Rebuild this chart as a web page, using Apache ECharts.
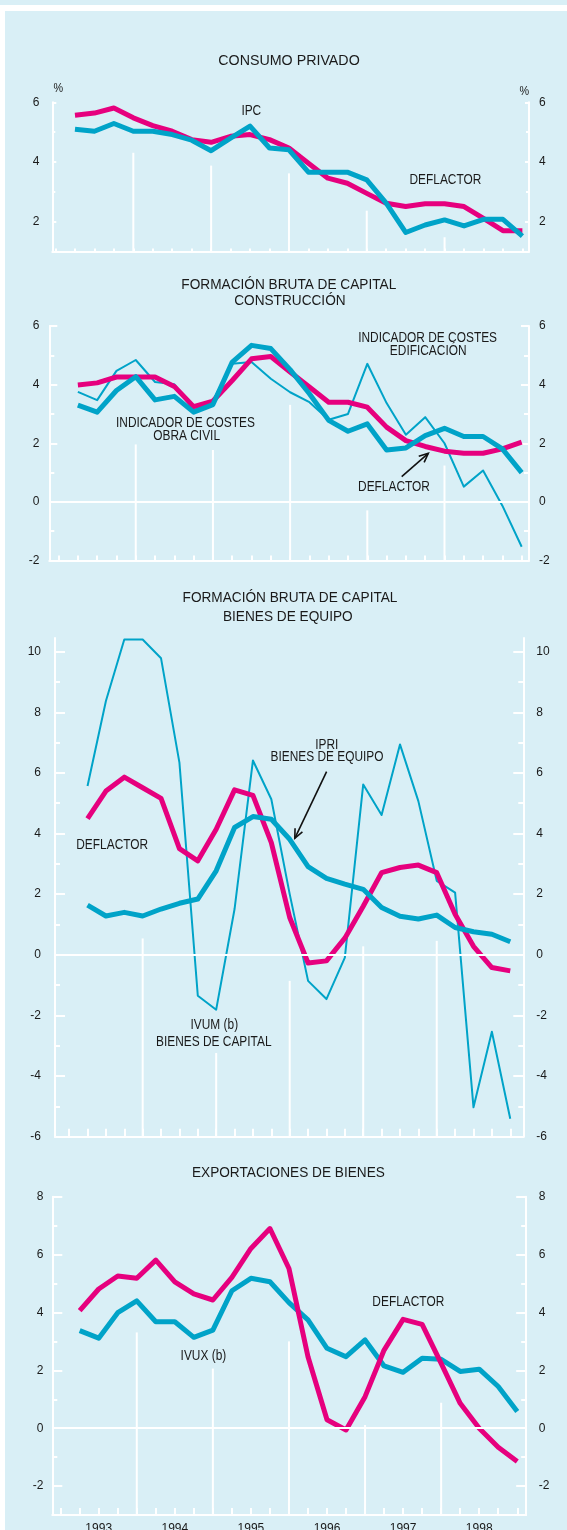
<!DOCTYPE html>
<html>
<head>
<meta charset="utf-8">
<title>Deflactores</title>
<script src="https://cdn.jsdelivr.net/npm/echarts@6/dist/echarts.min.js"></script>
<style>
  html, body { margin: 0; padding: 0; background: #ffffff; overflow: hidden; }
  #strip { position: absolute; left: 0; top: 0; width: 567px; height: 5px; background: #d9eff6; }
  #panel { position: absolute; left: 5px; top: 11px; width: 562px; height: 1519px; background: #d9eff6; }
  #main { position: absolute; left: 0; top: 0; width: 567px; height: 1530px; }
</style>
</head>
<body>
<div id="strip"></div>
<div id="panel"></div>
<div id="main"></div>
<script>
// ---- datos (tasas de variación interanual, %) ----
var quarters = ['I 93', 'II 93', 'III 93', 'IV 93', 'I 94', 'II 94', 'III 94', 'IV 94',
                'I 95', 'II 95', 'III 95', 'IV 95', 'I 96', 'II 96', 'III 96', 'IV 96',
                'I 97', 'II 97', 'III 97', 'IV 97', 'I 98', 'II 98', 'III 98', 'IV 98'];
var years = ['1993', '1994', '1995', '1996', '1997', '1998'];

// consumo privado
var consumoDeflactor = [5.57, 5.64, 5.81, 5.48, 5.22, 5.03, 4.75, 4.66, 4.86, 4.92, 4.75, 4.47,
                        3.96, 3.46, 3.29, 2.95, 2.62, 2.51, 2.60, 2.60, 2.51, 2.11, 1.70, 1.70];
var consumoIpc = [5.10, 5.03, 5.29, 5.03, 5.03, 4.92, 4.73, 4.38, 4.80, 5.20, 4.47, 4.41,
                  3.66, 3.66, 3.66, 3.40, 2.62, 1.64, 1.89, 2.06, 1.86, 2.08, 2.08, 1.52];

// construcción
var construccionDeflactor = [3.99, 4.06, 4.26, 4.26, 4.26, 3.94, 3.25, 3.44, 4.14, 4.88, 4.96, 4.43,
                             3.92, 3.40, 3.40, 3.23, 2.55, 2.09, 1.89, 1.73, 1.66, 1.66, 1.81, 2.04];
var construccionObraCivil = [3.30, 3.06, 3.80, 4.27, 3.48, 3.60, 3.06, 3.32, 4.77, 5.34, 5.23, 4.51,
                             3.69, 2.78, 2.41, 2.66, 1.77, 1.84, 2.26, 2.51, 2.23, 2.23, 1.81, 1.00];
var construccionEdificacion = [3.75, 3.47, 4.47, 4.84, 4.09, 4.01, 3.12, 3.46, 4.71, 4.77, 4.20, 3.74,
                               3.40, 2.80, 3.00, 4.71, 3.37, 2.29, 2.89, 2.00, 0.52, 1.07, -0.13, -1.53];

// bienes de equipo
var equipoDeflactor = [4.49, 5.40, 5.86, 5.51, 5.16, 3.50, 3.10, 4.14, 5.44, 5.26, 3.70, 1.23,
                       -0.27, -0.20, 0.55, 1.60, 2.71, 2.88, 2.96, 2.71, 1.34, 0.28, -0.42, -0.53];
var equipoIpri = [1.64, 1.28, 1.40, 1.28, 1.51, 1.70, 1.84, 2.77, 4.20, 4.56, 4.47, 3.81,
                  2.91, 2.52, 2.33, 2.16, 1.56, 1.27, 1.18, 1.31, 0.90, 0.76, 0.68, 0.43];
var equipoIvum = [5.57, 8.37, 10.40, 10.40, 9.78, 6.34, -1.35, -1.81, 1.51, 6.41, 5.13, 2.00,
                  -0.86, -1.46, -0.09, 5.62, 4.61, 6.94, 5.07, 2.44, 2.05, -5.03, -2.54, -5.41];

// exportaciones de bienes
var exportDeflactor = [4.06, 4.81, 5.26, 5.18, 5.81, 5.06, 4.64, 4.43, 5.21, 6.21, 6.90, 5.52,
                       2.47, 0.29, -0.06, 1.09, 2.70, 3.76, 3.59, 2.24, 0.86, 0.00, -0.66, -1.15];
var exportIvux = [3.37, 3.11, 3.99, 4.40, 3.68, 3.68, 3.14, 3.39, 4.75, 5.18, 5.06, 4.34,
                  3.74, 2.76, 2.47, 3.05, 2.15, 1.93, 2.42, 2.38, 1.96, 2.04, 1.44, 0.58];

/**
 * estilos
 */
var FONT = '"Liberation Sans", Arial, Helvetica, sans-serif';
var PINK = '#e6007e';
var BLUE = '#00a3c8';
var WHITE = '#ffffff';
var INK = '#1a1a1a';

// marcas del eje x: límites de trimestre; rótulos de año en el centro de cada año
var quarterTicks = [];
for (var q = 0; q <= quarters.length; q++) quarterTicks.push(q);
var yearCenters = years.map(function (y, k) { return 4 * k + 2; });

// una entrada por panel (posiciones en píxeles del lienzo)
var panels = [
  { left: 52.3, right: 529, top: 102.3, bottom: 251.6, xMin: -0.165, xMax: 24.34,
    yMin: 1, yMax: 6, major: [2, 4, 6], minor: [3, 5], majorLen: 4, minorLen: 3, xTickLen: 3,
    gapL: 13, gapR: 10, zeroLine: false, yearTops: [4.31, 3.88, 3.62, 2.37, 1.48],
    lines: [
      { name: 'DEFLACTOR', data: consumoDeflactor, color: PINK, width: 5 },
      { name: 'IPC', data: consumoIpc, color: BLUE, width: 5 }
    ] },
  { left: 49.3, right: 529, top: 326, bottom: 560.5, xMin: -0.48, xMax: 24.38,
    yMin: -2, yMax: 6, major: [-2, 0, 2, 4, 6], minor: [-1, 1, 3, 5], majorLen: 8, minorLen: 5, xTickLen: 5,
    gapL: 10, gapR: 10, zeroLine: true, yearTops: [1.96, 1.77, 3.31, -0.29, 1.24],
    lines: [
      { name: 'EDIFICACIÓN', data: construccionEdificacion, color: BLUE, width: 2 },
      { name: 'DEFLACTOR', data: construccionDeflactor, color: PINK, width: 5 },
      { name: 'OBRA CIVIL', data: construccionObraCivil, color: BLUE, width: 5 }
    ] },
  { left: 55, right: 523.3, top: 638, bottom: 1136.7, xMin: -0.77, xMax: 24.71,
    yMin: -6, yMax: 10.45, major: [-6, -4, -2, 0, 2, 4, 6, 8, 10], minor: [-5, -3, -1, 1, 3, 5, 7, 9],
    majorLen: 10, minorLen: 5, xTickLen: 8,
    gapL: 14, gapR: 13, zeroLine: true, yearTops: [0.54, -3.24, -0.86, 0.28, 0.46],
    lines: [
      { name: 'IVUM', data: equipoIvum, color: BLUE, width: 2 },
      { name: 'DEFLACTOR', data: equipoDeflactor, color: PINK, width: 5 },
      { name: 'IPRI', data: equipoIpri, color: BLUE, width: 5 }
    ] },
  { left: 52.3, right: 526.2, top: 1196.7, bottom: 1515, xMin: -0.44, xMax: 24.47,
    yMin: -3, yMax: 8, major: [-2, 0, 2, 4, 6, 8], minor: [-1, 1, 3, 5, 7], majorLen: 10, minorLen: 5, xTickLen: 7,
    gapL: 9, gapR: 12.5, zeroLine: true, yearTops: [3.31, 2.06, 3.0, 0.11, 0.88],
    lines: [
      { name: 'IVUX', data: exportIvux, color: BLUE, width: 5 },
      { name: 'DEFLACTOR', data: exportDeflactor, color: PINK, width: 5 }
    ] }
];

var grid = [], xAxis = [], yAxis = [], series = [];

function makeYAxis(i, p, pos, isMajor) {
  return {
    type: 'value', gridIndex: i, position: pos, min: p.yMin, max: p.yMax,
    axisLine: { show: isMajor, onZero: false, lineStyle: { color: WHITE, width: 2 } },
    axisTick: { show: true, inside: true, length: isMajor ? p.majorLen : p.minorLen,
                customValues: isMajor ? p.major : p.minor, lineStyle: { color: WHITE, width: 2 } },
    axisLabel: isMajor ? { show: true, customValues: p.major, margin: pos === 'left' ? p.gapL : p.gapR,
                           color: INK, fontSize: 12, fontFamily: FONT } : { show: false },
    splitLine: { show: false }
  };
}

panels.forEach(function (p, i) {
  grid.push({ left: p.left, top: p.top, width: p.right - p.left, height: p.bottom - p.top,
              containLabel: false, outerBoundsMode: 'none' });
  xAxis.push({
    type: 'value', gridIndex: i, min: p.xMin, max: p.xMax,
    axisLine: { show: true, onZero: false, lineStyle: { color: WHITE, width: 2 } },
    axisTick: { show: true, inside: true, length: p.xTickLen, customValues: quarterTicks,
                lineStyle: { color: WHITE, width: 2 } },
    axisLabel: i === panels.length - 1 ? {
      show: true, customValues: yearCenters, margin: 8, color: INK, fontSize: 12, fontFamily: FONT,
      formatter: function (v) { return years[Math.round((v - 2) / 4)]; }
    } : { show: false },
    splitLine: { show: false }
  });
  yAxis.push(makeYAxis(i, p, 'left', true));
  yAxis.push(makeYAxis(i, p, 'right', true));
  yAxis.push(makeYAxis(i, p, 'left', false));
  yAxis.push(makeYAxis(i, p, 'right', false));

  // líneas blancas de separación de años y línea del cero
  series.push({
    type: 'custom', xAxisIndex: i, yAxisIndex: 4 * i, z: 1, silent: true,
    data: p.yearTops.map(function (t, k) { return [4 * (k + 1), t]; }),
    renderItem: function (params, api) {
      var pt = api.coord([api.value(0), api.value(1)]);
      var cs = params.coordSys;
      return { type: 'line', shape: { x1: pt[0], y1: pt[1], x2: pt[0], y2: cs.y + cs.height },
               style: { stroke: WHITE, lineWidth: 2 } };
    },
    markLine: p.zeroLine ? {
      silent: true, symbol: 'none', label: { show: false },
      lineStyle: { color: WHITE, width: 2, type: 'solid' },
      emphasis: { disabled: true },
      data: [{ yAxis: 0 }]
    } : undefined
  });

  p.lines.forEach(function (s, k) {
    series.push({
      type: 'line', name: s.name, xAxisIndex: i, yAxisIndex: 4 * i, z: 3 + k,
      data: quarters.map(function (qq, j) { return [j + 1, s.data[j]]; }),
      showSymbol: false, symbol: 'none', silent: true,
      lineStyle: { color: s.color, width: s.width, join: 'round' },
      emphasis: { disabled: true }
    });
  });
});

/**
 * rótulos y flechas
 */
function label(text, x, y, size, sx) {
  return { type: 'text', x: x, y: y, scaleX: sx, z: 100, silent: true,
           style: { text: text, fill: INK, fontSize: size, fontFamily: FONT,
                    align: 'center', verticalAlign: 'middle' } };
}
function arrow(x1, y1, x2, y2) {
  var a = Math.atan2(y2 - y1, x2 - x1), h = 10, w = 0.42;
  return [
    { type: 'line', z: 100, silent: true, shape: { x1: x1, y1: y1, x2: x2, y2: y2 },
      style: { stroke: '#111', lineWidth: 1.6 } },
    { type: 'polyline', z: 100, silent: true,
      shape: { points: [[x2 - h * Math.cos(a - w), y2 - h * Math.sin(a - w)], [x2, y2],
                        [x2 - h * Math.cos(a + w), y2 - h * Math.sin(a + w)]] },
      style: { stroke: '#111', lineWidth: 1.6, fill: null } }
  ];
}

var graphic = [
  label('CONSUMO PRIVADO', 289, 61.3, 15, 0.95),
  label('IPC', 251.3, 111.3, 14, 0.85),
  label('DEFLACTOR', 445.4, 180, 14, 0.85),
  label('%', 58.3, 88.7, 12, 0.9),
  label('%', 524.3, 91.5, 12, 0.9),

  label('FORMACIÓN BRUTA DE CAPITAL', 288.8, 284.8, 15, 0.91),
  label('CONSTRUCCIÓN', 289.9, 300.8, 15, 0.91),
  label('INDICADOR DE COSTES', 427.6, 338, 14, 0.85),
  label('EDIFICACIÓN', 428.2, 351.3, 14, 0.85),
  label('INDICADOR DE COSTES', 185.4, 423, 14, 0.85),
  label('OBRA CIVIL', 186.6, 436.2, 14, 0.85),
  label('DEFLACTOR', 394, 487.2, 14, 0.85),

  label('FORMACIÓN BRUTA DE CAPITAL', 290, 597.5, 15, 0.91),
  label('BIENES DE EQUIPO', 287.8, 616.5, 15, 0.91),
  label('IPRI', 326.8, 745, 14, 0.85),
  label('BIENES DE EQUIPO', 327, 756.7, 14, 0.85),
  label('DEFLACTOR', 112.2, 844.7, 14, 0.85),
  label('IVUM (b)', 214.3, 1025, 14, 0.85),
  label('BIENES DE CAPITAL', 213.8, 1041.7, 14, 0.85),

  label('EXPORTACIONES DE BIENES', 288.4, 1173, 15, 0.91),
  label('DEFLACTOR', 408.3, 1302.2, 14, 0.85),
  label('IVUX (b)', 203.4, 1356.3, 14, 0.85)
].concat(arrow(401.7, 476.7, 428.3, 453.3), arrow(326.6, 771.7, 294.8, 838.3));

var chart = echarts.init(document.getElementById('main'), null, { renderer: 'canvas' });
chart.setOption({
  animation: false,
  backgroundColor: 'transparent',
  grid: grid,
  xAxis: xAxis,
  yAxis: yAxis,
  series: series,
  graphic: graphic
});
</script>
</body>
</html>
